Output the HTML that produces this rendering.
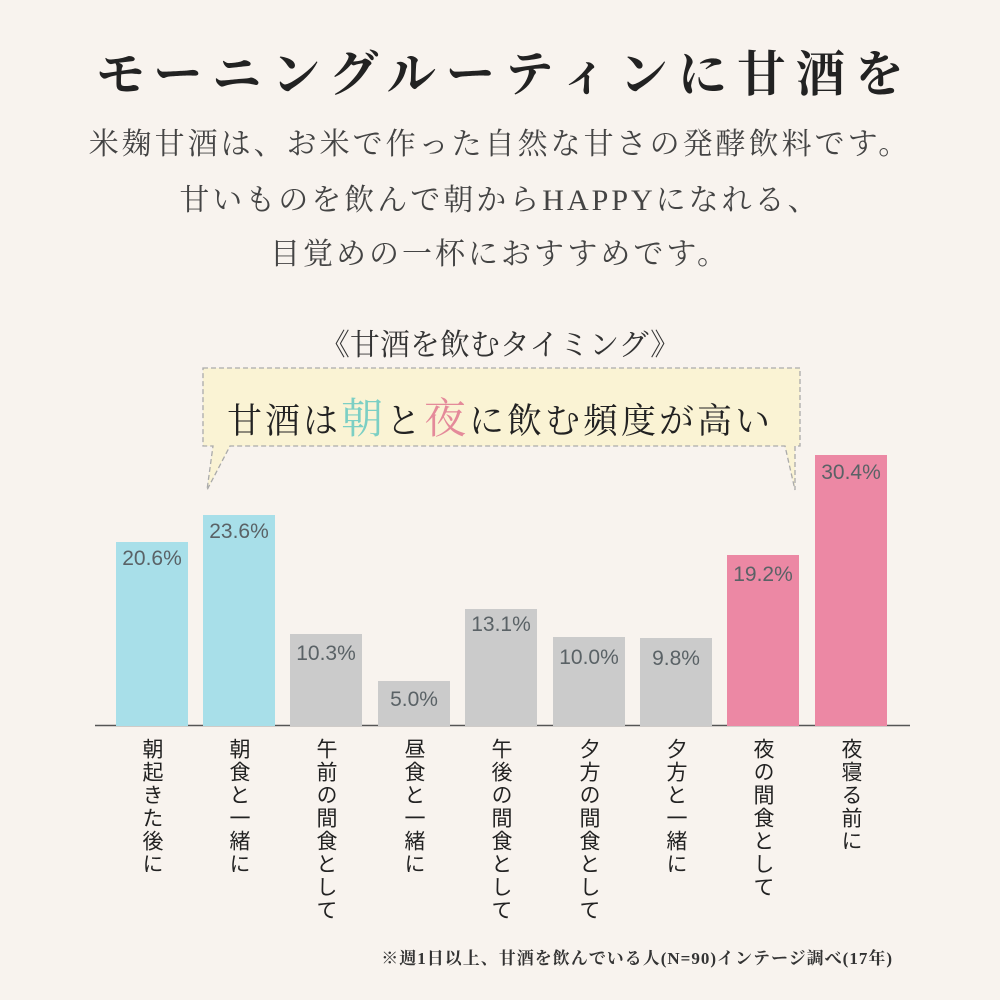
<!DOCTYPE html>
<html><head><meta charset="utf-8"><style>
body{margin:0;width:1000px;height:1000px;background:#f8f3ee;position:relative;overflow:hidden;font-family:"Liberation Serif","Noto Serif CJK SC","Noto Sans CJK JP",serif;color:#222}
.t{position:absolute;left:0;width:1000px;text-align:center;white-space:nowrap}
.bar{position:absolute;width:72px;bottom:274px}
.v{position:absolute;width:72px;text-align:center;font-family:"Liberation Sans","DejaVu Sans",sans-serif;font-size:21px;color:#5a6266}
.lab{position:absolute;top:738px;writing-mode:vertical-rl;font-size:21px;letter-spacing:2px;color:#222;font-family:"Noto Sans CJK JP",sans-serif}
.sub{font-size:30px;color:#444;letter-spacing:3px;font-family:'Liberation Serif','Noto Serif CJK SC',serif}
</style></head><body>
<div class="t" style="top:36px;font-size:49px;font-weight:bold;letter-spacing:10px;text-indent:10px;font-family:'Noto Serif CJK SC','Noto Sans CJK JP',serif">モーニングルーティンに甘酒を</div>
<div class="t sub" style="top:119px">米麹甘酒は、お米で作った自然な甘さの発酵飲料です。</div>
<div class="t sub" style="top:175px">甘いものを飲んで朝からHAPPYになれる、</div>
<div class="t sub" style="top:229px">目覚めの一杯におすすめです。</div>
<div class="t" style="top:320px;font-size:30px;color:#333;font-family:'Liberation Serif','Noto Serif CJK SC',serif">《甘酒を飲むタイミング》</div>
<svg style="position:absolute;left:0;top:0" width="1000" height="1000">
<path d="M203,368 H800 V446 H795 L795,490 L785,446 H230 L207,490 L213,446 H203 Z" fill="#faf3d4" stroke="#aaa" stroke-width="1.3" stroke-dasharray="5,3"/>
<line x1="95" y1="725.5" x2="910" y2="725.5" stroke="#555" stroke-width="1.5"/>
</svg>
<div class="t" style="top:386px;font-size:35px;letter-spacing:3px;font-family:'Noto Serif CJK SC',serif">甘酒は<span style="color:#7ccfc4;font-size:42px">朝</span>と<span style="color:#e48a9a;font-size:42px">夜</span>に飲む頻度が高い</div>

<div class="bar" style="left:116px;height:184px;background:#a8dfe9"></div>
<div class="bar" style="left:203px;height:211px;background:#a8dfe9"></div>
<div class="bar" style="left:290px;height:92px;background:#cbcbcb"></div>
<div class="bar" style="left:378px;height:45px;background:#cbcbcb"></div>
<div class="bar" style="left:465px;height:117px;background:#cbcbcb"></div>
<div class="bar" style="left:553px;height:89px;background:#cbcbcb"></div>
<div class="bar" style="left:640px;height:88px;background:#cbcbcb"></div>
<div class="bar" style="left:727px;height:171px;background:#ec88a4"></div>
<div class="bar" style="left:815px;height:271px;background:#ec88a4"></div>

<div class="v" style="left:116px;top:547px">20.6%</div>
<div class="v" style="left:203px;top:520px">23.6%</div>
<div class="v" style="left:290px;top:642px">10.3%</div>
<div class="v" style="left:378px;top:688px">5.0%</div>
<div class="v" style="left:465px;top:613px">13.1%</div>
<div class="v" style="left:553px;top:646px">10.0%</div>
<div class="v" style="left:640px;top:647px">9.8%</div>
<div class="v" style="left:727px;top:563px">19.2%</div>
<div class="v" style="left:815px;top:461px">30.4%</div>

<div class="lab" style="left:138px">朝起きた後に</div>
<div class="lab" style="left:225px">朝食と一緒に</div>
<div class="lab" style="left:312px">午前の間食として</div>
<div class="lab" style="left:400px">昼食と一緒に</div>
<div class="lab" style="left:487px">午後の間食として</div>
<div class="lab" style="left:575px">夕方の間食として</div>
<div class="lab" style="left:662px">夕方と一緒に</div>
<div class="lab" style="left:749px">夜の間食として</div>
<div class="lab" style="left:837px">夜寝る前に</div>

<div style="position:absolute;right:107px;top:944px;font-size:17px;font-weight:bold;color:#333;white-space:nowrap;letter-spacing:1px">※週1日以上、甘酒を飲んでいる人(N=90)インテージ調べ(17年)</div>
</body></html>
